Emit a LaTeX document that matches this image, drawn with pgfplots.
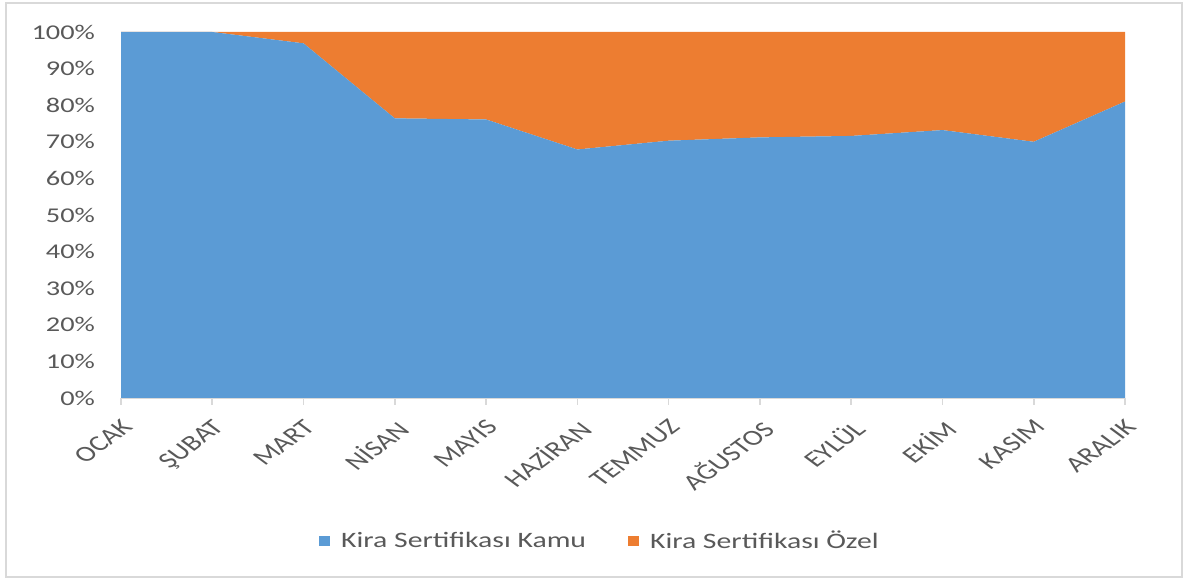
\documentclass[border=0pt]{standalone}
\usepackage{fontspec}
\setmainfont{Carlito}
\newfontfamily\wide[FakeStretch=1.35]{Carlito}
\usepackage{pgfplots}
\pgfplotsset{compat=1.18}
\definecolor{kamu}{HTML}{5B9BD5}
\definecolor{ozel}{HTML}{ED7D31}
\definecolor{txt}{HTML}{595959}
\definecolor{axl}{HTML}{D9D9D9}
\begin{document}
\begin{tikzpicture}
\useasboundingbox (0pt,0pt) rectangle (593.5pt,290.5pt);
\draw[axl, line width=1pt] (3pt,2pt) rectangle (591pt,289pt);
\begin{axis}[
  at={(60.5pt,91.5pt)}, anchor=south west,
  scale only axis,
  width=502pt, height=183pt,
  xmin=0, xmax=11, ymin=0, ymax=100,
  stack plots=y,
  axis x line*=bottom, axis y line*=left,
  y axis line style={draw=none},
  x axis line style={axl, line width=0.8pt},
  xtick={0,...,11},
  xticklabels={OCAK,ŞUBAT,MART,NİSAN,MAYIS,HAZİRAN,TEMMUZ,AĞUSTOS,EYLÜL,EKİM,KASIM,ARALIK},
  x tick style={axl, line width=0.8pt},
  major tick length=3.5pt,
  tick align=outside,
  ytick={0,10,...,100},
  ytick style={draw=none},
  yticklabel={\pgfmathprintnumber{\tick}\%},
  /pgf/number format/assume math mode=true,
  yticklabel style={font=\wide\fontsize{10.5}{12}\selectfont, text=txt, xshift=-6pt},
  xticklabel style={font=\fontsize{11}{13}\selectfont, text=txt,
    anchor=north east, cm={0.9546,0.7071,-0.9546,0.7071,(0,0)}, xshift=-1.5pt, yshift=-1pt},
  legend style={draw=none, fill=none, at={(0.478,-0.391)}, anchor=center,
    legend columns=2, font=\wide\fontsize{11}{13}\selectfont, text=txt,
    /tikz/every even column/.append style={column sep=19pt}},
  legend image code/.code={\fill[#1] (0pt,-2.6pt) rectangle (5.5pt,2.4pt); \path (9pt,0pt);},
  clip=false,
]
\addplot[fill=kamu, draw=none] coordinates {
(0,100) (1,100) (2,96.9) (3,76.4) (4,76.1) (5,67.9) (6,70.3) (7,71.2) (8,71.6) (9,73.2) (10,70.0) (11,81.0)
} \closedcycle;
\addlegendentry{Kira Sertifikası Kamu}
\addplot[fill=ozel, draw=none] coordinates {
(0,0) (1,0) (2,3.1) (3,23.6) (4,23.9) (5,32.1) (6,29.7) (7,28.8) (8,28.4) (9,26.8) (10,30.0) (11,19.0)
} \closedcycle;
\addlegendentry{Kira Sertifikası Özel}
\end{axis}
\end{tikzpicture}
\end{document}
